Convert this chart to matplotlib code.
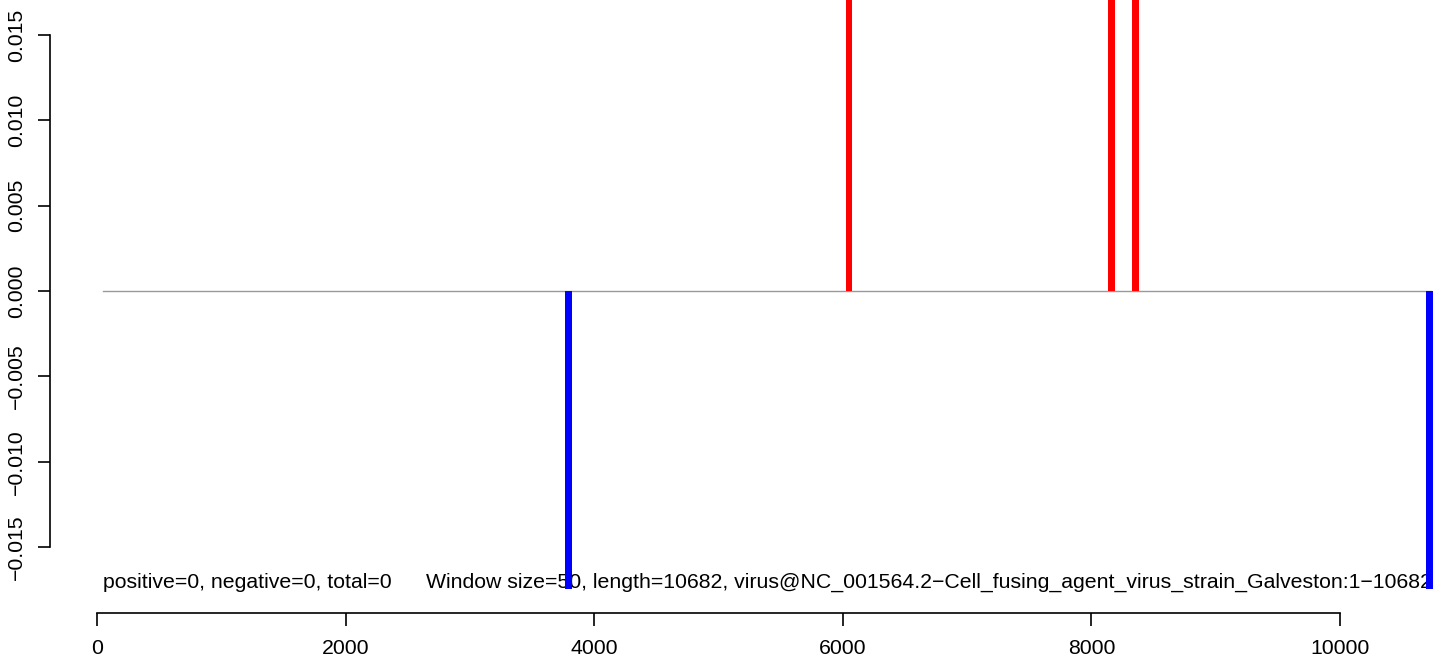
import matplotlib
matplotlib.use("Agg")
import matplotlib.pyplot as plt

# positions (bp) and window scores; bars run off the plot region
red_pos = [6050, 8160, 8355]
red_val = [0.0175, 0.0175, 0.0175]
blue_pos = [3790, 10720]
blue_val = [-0.01746, -0.01746]
seq_start, seq_end = 50, 10730

x_ticks = [0, 2000, 4000, 6000, 8000, 10000]
y_ticks = [-0.015, -0.010, -0.005, 0.000, 0.005, 0.010, 0.015]
y_labels = ["\u22120.015", "\u22120.010", "\u22120.005", "0.000", "0.005", "0.010", "0.015"]

note_left = "positive=0, negative=0, total=0"
note_right = ("Window size=50, length=10682, "
              "virus@NC_001564.2\u2212Cell_fusing_agent_virus_strain_Galveston:1\u221210682")

plt.rcParams['font.family'] = ['Liberation Sans', 'DejaVu Sans']
FS = 15.3

fig = plt.figure(figsize=(14.5, 6.64), dpi=100)
ax = fig.add_axes([0, 0, 1, 1])
ax.set_xlim(-97 / 0.1243, (1450 - 97) / 0.1243)
ax.set_ylim((291 - 664) / 17070, 291 / 17070)
ax.set_facecolor("white")

ax.plot([seq_start, seq_end], [0, 0], color="#999999", linewidth=1, zorder=1)
ax.bar(red_pos, red_val, width=56, color="#ff0000", linewidth=0, zorder=2)
ax.bar(blue_pos, blue_val, width=56, color="#0000ff", linewidth=0, zorder=2)

ax.text(50, -0.01740, note_left, fontsize=FS, ha="left", va="baseline", zorder=1)
ax.text(10740, -0.01740, note_right, fontsize=FS, ha="right", va="baseline", zorder=1)

# R-style detached axes
for s in ["top", "right"]:
    ax.spines[s].set_visible(False)
ax.spines["left"].set_position(("data", -378))
ax.spines["left"].set_bounds(-0.015, 0.015)
ax.spines["bottom"].set_position(("data", -0.018864))
ax.spines["bottom"].set_bounds(0, 10000)
for s in ["left", "bottom"]:
    ax.spines[s].set_linewidth(1.2)

ax.set_xticks(x_ticks)
ax.set_xticklabels([str(v) for v in x_ticks])
ax.set_yticks(y_ticks)
ax.set_yticklabels(y_labels, rotation=90, va="center")
ax.tick_params(axis="both", direction="out", length=9, width=1.2, labelsize=FS)
ax.tick_params(axis="x", pad=10)
ax.tick_params(axis="y", pad=8)

fig.savefig("out.png", dpi=100)
